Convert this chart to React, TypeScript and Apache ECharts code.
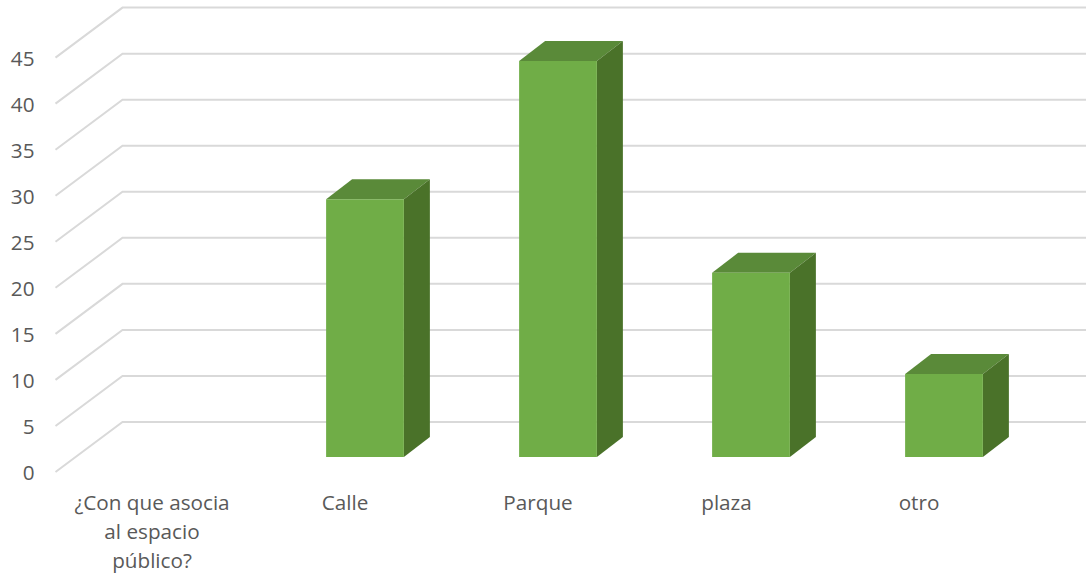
import React, { useEffect, useRef } from "react";
import * as echarts from "echarts";

const categories = ["¿Con que asocia\nal espacio\npúblico?", "Calle", "Parque", "plaza", "otro"];
const labelPad = [0, 0, 0, 9, 10];
const values: (number | null)[] = [null, 28, 43, 20, 9];
const yTicks = [0, 5, 10, 15, 20, 25, 30, 35, 40, 45];

const WALL_DX = 67;
const WALL_DY = -50;
const BAR_DX = 20;
const BAR_DY = -15;
const DEPTH_DX = 26;
const DEPTH_DY = -20;
const BAR_RATIO = 0.403;

export default function App() {
  const ref = useRef<HTMLDivElement>(null);
  useEffect(() => {
    const chart = echarts.init(ref.current!, null, { renderer: "svg" });
    chart.setOption({
      animation: false,
      backgroundColor: "#ffffff",
      grid: { left: 55.5, top: 57.6, width: 965, height: 414.4, containLabel: false, outerBoundsMode: "none" },
      xAxis: {
        type: "category",
        data: categories.map((value, i) => ({ value, textStyle: { padding: [0, labelPad[i], 0, 0] } })),
        axisLine: { show: false },
        axisTick: { show: false },
        splitLine: { show: false },
        axisLabel: {
          interval: 0,
          margin: 15,
          color: "#595959",
          fontFamily: "Open Sans",
          fontSize: 20.7,
          lineHeight: 29,
          align: "center",
          verticalAlign: "top",
        },
      },
      yAxis: {
        type: "value",
        min: 0,
        max: 45,
        interval: 5,
        axisLine: { show: false },
        axisTick: { show: false },
        splitLine: { show: false },
        axisLabel: {
          margin: 21,
          color: "#595959",
          fontFamily: "Open Sans",
          fontSize: 20.7,
        },
      },
      series: [
        {
          type: "custom",
          silent: true,
          z: 1,
          data: yTicks.map((v) => [0, v]),
          encode: { x: 0, y: 1 },
          renderItem: (params: any, api: any) => {
            const cs = params.coordSys;
            const y = api.coord([0, api.value(1)])[1];
            return {
              type: "polyline",
              shape: {
                points: [
                  [cs.x, y],
                  [cs.x + WALL_DX, y + WALL_DY],
                  [cs.x + cs.width + WALL_DX, y + WALL_DY],
                ],
              },
              style: { stroke: "#D9D9D9", lineWidth: 2, fill: "none" },
            };
          },
        },
        {
          type: "custom",
          silent: true,
          z: 2,
          data: values.map((v, i) => [i, v]),
          encode: { x: 0, y: 1 },
          renderItem: (_params: any, api: any) => {
            const val = api.value(1);
            if (val == null || isNaN(val)) return null;
            const top = api.coord([api.value(0), val]);
            const base = api.coord([api.value(0), 0]);
            const w = api.size([1, 0])[0] * BAR_RATIO;
            const xl = top[0] + BAR_DX - w / 2;
            const xr = xl + w;
            const yt = top[1] + BAR_DY;
            const yb = base[1] + BAR_DY;
            return {
              type: "group",
              children: [
                {
                  type: "polygon",
                  shape: { points: [[xl, yt], [xl + DEPTH_DX, yt + DEPTH_DY], [xr + DEPTH_DX, yt + DEPTH_DY], [xr, yt]] },
                  style: { fill: "#5A8A39" },
                },
                {
                  type: "polygon",
                  shape: { points: [[xr, yt], [xr + DEPTH_DX, yt + DEPTH_DY], [xr + DEPTH_DX, yb + DEPTH_DY], [xr, yb]] },
                  style: { fill: "#4A7229" },
                },
                {
                  type: "rect",
                  shape: { x: xl, y: yt, width: w, height: yb - yt },
                  style: { fill: "#70AD47" },
                },
              ],
            };
          },
        },
      ],
    });
    return () => chart.dispose();
  }, []);
  return <div ref={ref} style={{ position: "absolute", left: 0, top: 0, width: 1086, height: 574 }} />;
}
